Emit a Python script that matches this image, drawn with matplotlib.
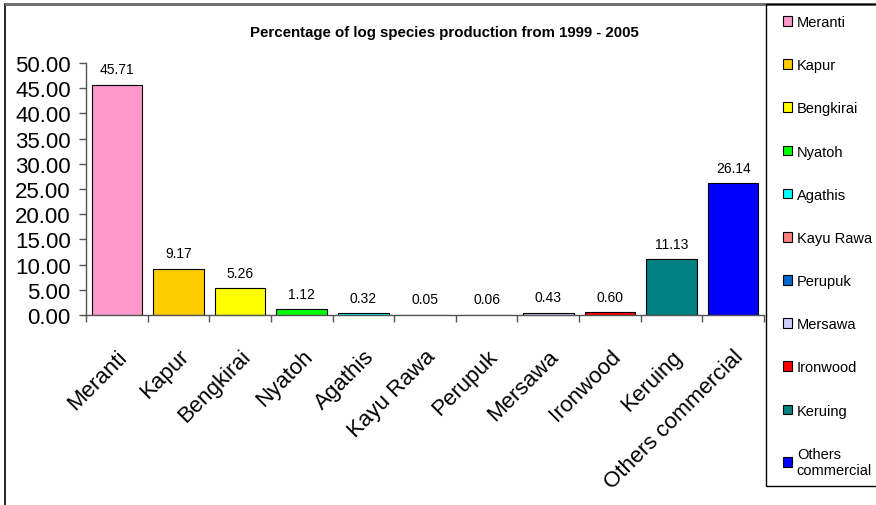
import matplotlib.pyplot as plt
from matplotlib.patches import Rectangle, Patch

species = ["Meranti", "Kapur", "Bengkirai", "Nyatoh", "Agathis", "Kayu Rawa",
           "Perupuk", "Mersawa", "Ironwood", "Keruing", "Others commercial"]
percent = [45.71, 9.17, 5.26, 1.12, 0.32, 0.05, 0.06, 0.43, 0.60, 11.13, 26.14]
colors = ["#FF99CC", "#FFCC00", "#FFFF00", "#00FF00", "#00FFFF", "#FF8080",
          "#0066CC", "#CCCCFF", "#FF0000", "#008080", "#0000FF"]
legend_labels = species[:-1] + ["Others\ncommercial"]
yticks = [0, 5, 10, 15, 20, 25, 30, 35, 40, 45, 50]

plt.rcParams["font.family"] = ["Liberation Sans", "DejaVu Sans"]

W, H = 876, 506
fig = plt.figure(figsize=(W / 100, H / 100), dpi=100)
ax = fig.add_axes([86 / W, 1 - 316 / H, (764 - 86) / W, (316 - 64) / H])

x = list(range(len(species)))
bars = ax.bar(x, percent, width=0.82, color=colors, edgecolor="black", linewidth=0.8)
for b, v in zip(bars, percent):
    ax.annotate(f"{v:.2f}", (b.get_x() + b.get_width() / 2, v),
                xytext=(0, 6), textcoords="offset points",
                ha="center", va="bottom", fontsize=10)

ax.set_xlim(-0.5, len(species) - 0.5)
ax.set_ylim(0, 50)
ax.set_yticks(yticks)
ax.set_yticklabels([f"{t:.2f}" for t in yticks], fontsize=16)
ax.set_xticks(x)
ax.set_xticklabels(species, rotation=45, ha="right", rotation_mode="anchor", fontsize=16)
ax.tick_params(axis="x", length=0, pad=22)
# tick marks sit between the categories
ax.set_xticks([i - 0.5 for i in range(len(species) + 1)], minor=True)
ax.tick_params(axis="x", which="minor", length=5, width=1, direction="out", color="#555555")
ax.tick_params(axis="y", length=5, width=1, direction="out", pad=6, color="#555555")
for s in ["top", "right"]:
    ax.spines[s].set_visible(False)
for s in ["left", "bottom"]:
    ax.spines[s].set_color("#555555")
    ax.spines[s].set_linewidth(1)

fig.text(444 / W, 1 - 33 / H, "Percentage of log species production from 1999 - 2005",
         ha="center", va="center", fontsize=10.8, fontweight="bold")

# outer chart frame and legend box
fig.add_artist(Rectangle((5 / W, -0.05), 1.0, 1 - 5 / H + 0.05, transform=fig.transFigure,
                         fill=False, edgecolor="black", linewidth=1.2))
fig.add_artist(Rectangle((5 / W, 1 - 5 / H), 1.0, 0, transform=fig.transFigure,
                         fill=False, edgecolor="#707070", linewidth=2))
fig.add_artist(Rectangle((766 / W, 1 - 487 / H), 0.2, (487 - 5) / H, transform=fig.transFigure,
                         fill=False, edgecolor="black", linewidth=1))

handles = [Patch(facecolor=c, edgecolor="black", linewidth=0.8) for c in colors]
fig.legend(handles, legend_labels, loc="upper left",
           bbox_to_anchor=(783 / W, 1 - 16 / H), frameon=False, fontsize=10.5,
           handlelength=0.65, handleheight=0.65, handletextpad=0.3,
           labelspacing=2.0, borderpad=0, borderaxespad=0)

fig.savefig("out.png", dpi=100)
